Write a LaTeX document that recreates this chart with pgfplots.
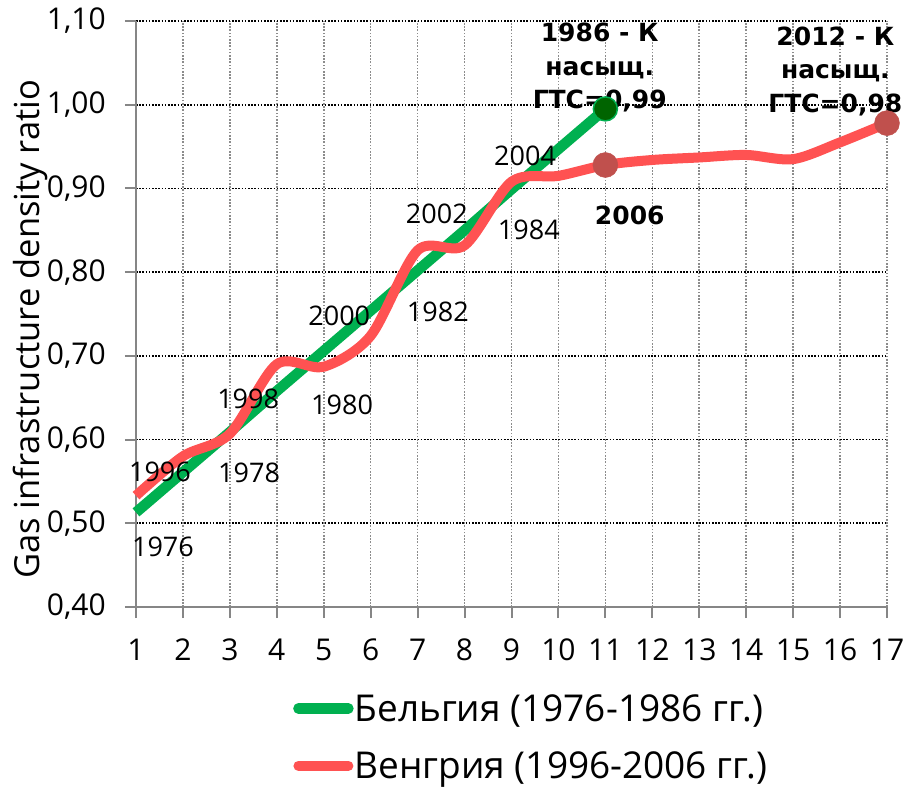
\documentclass[border=0pt]{standalone}
\usepackage{fontspec}
\setmainfont{Open Sans}
\newfontfamily\dv{DejaVu Sans}
\usepackage{pgfplots}
\pgfplotsset{compat=1.18}
\definecolor{gline}{RGB}{0,176,80}
\definecolor{rline}{RGB}{255,82,82}
\definecolor{gmark}{RGB}{0,100,0}
\definecolor{rmark}{RGB}{192,80,77}
\definecolor{axgray}{RGB}{134,134,134}
\definecolor{vgrid}{RGB}{140,140,140}
\begin{document}
\begin{tikzpicture}
\begin{axis}[
  scale only axis, width=751bp, height=586bp,
  xmin=1, xmax=17, ymin=0.4, ymax=1.1,
  axis x line*=bottom, axis y line*=left,
  axis line style={axgray, line width=2bp},
  xtick={1,2,3,4,5,6,7,8,9,10,11,12,13,14,15,16,17},
  xticklabels={1,2,3,4,5,6,7,8,9,10,11,12,13,14,15,16,17},
  ytick={0.4,0.5,0.6,0.7,0.8,0.9,1.0,1.1},
  yticklabels={{0,40},{0,50},{0,60},{0,70},{0,80},{0,90},{1,00},{1,10}},
  /pgf/number format/assume math mode=true,
  tick align=outside, major tick length=11bp,
  tick style={axgray, line width=2bp},
  ticklabel style={font=\fontsize{30bp}{35bp}\selectfont, inner sep=0pt},
  xticklabel shift=21bp, yticklabel shift=19bp,
  grid=major,
  x grid style={vgrid, line width=1.6bp, dash pattern=on 1.6bp off 1.6bp},
  y grid style={black, line width=1.8bp, dash pattern=on 1.6bp off 1.6bp},
  clip=false,
  ylabel={Gas infrastructure density ratio},
  ylabel style={at={(rel axis cs:-0.141,0.474)}, anchor=center, rotate=0, font=\fontsize{34.5bp}{40bp}\selectfont},
  legend style={at={(rel axis cs:0.209,-0.147)}, anchor=north west, draw=none, fill=none,
    font=\fontsize{37bp}{44bp}\selectfont, row sep=27bp, inner sep=0pt,
    nodes={inner sep=1bp}},
  legend cell align=left,
  legend image code/.code={\draw[#1, line cap=round] (0bp,0bp) -- (50bp,0bp);},
]
\addplot[gline, line width=10.5bp] coordinates {
 (1,0.513) (2,0.561) (3,0.609) (4,0.658) (5,0.706) (6,0.754) (7,0.802) (8,0.850) (9,0.899) (10,0.947) (11,0.995)};
\addlegendentry{Бельгия (1976-1986 гг.)}
\addplot[rline, line width=10bp, smooth, tension=0.5] coordinates {
 (1,0.533) (2,0.580) (3,0.607) (4,0.690) (5,0.687) (6,0.724) (7,0.826) (8,0.832) (9,0.908) (10,0.915) (11,0.928) (12,0.934) (13,0.937) (14,0.940) (15,0.935) (16,0.955) (17,0.978)};
\addlegendentry{Венгрия (1996-2006 гг.)}
\addplot[only marks, mark=*, mark size=12bp, mark options={fill=gmark, draw=gline, line width=1.5bp}, forget plot] coordinates {(11,0.995)};
\addplot[only marks, mark=*, mark size=12.5bp, mark options={fill=rmark, draw=rmark}, forget plot] coordinates {(11,0.928) (17,0.978)};
\begin{scope}[every node/.style={font=\fontsize{27bp}{32bp}\selectfont, inner sep=0pt}]
\node at (axis cs:1.575,0.472) {1976};
\node at (axis cs:1.51,0.561) {1996};
\node at (axis cs:3.41,0.560) {1978};
\node at (axis cs:3.39,0.649) {1998};
\node at (axis cs:5.39,0.641) {1980};
\node at (axis cs:5.33,0.748) {2000};
\node at (axis cs:7.43,0.753) {1982};
\node at (axis cs:7.41,0.870) {2002};
\node at (axis cs:9.37,0.850) {1984};
\node at (axis cs:9.29,0.939) {2004};
\end{scope}
\begin{scope}[every node/.style={font=\dv\bfseries\fontsize{25bp}{33.5bp}\selectfont, inner sep=0pt, align=center}]
\node at (axis cs:10.88,1.044) {1986 - К\\насыщ.\\ГТС=0,99};
\node at (axis cs:15.9,1.040) {2012 - К\\насыщ.\\ГТС=0,98};
\node at (axis cs:11.52,0.868) {2006};
\end{scope}
\end{axis}
\pgfresetboundingbox
\path (-136bp,-180bp) rectangle (768bp,607bp);
\end{tikzpicture}
\end{document}
